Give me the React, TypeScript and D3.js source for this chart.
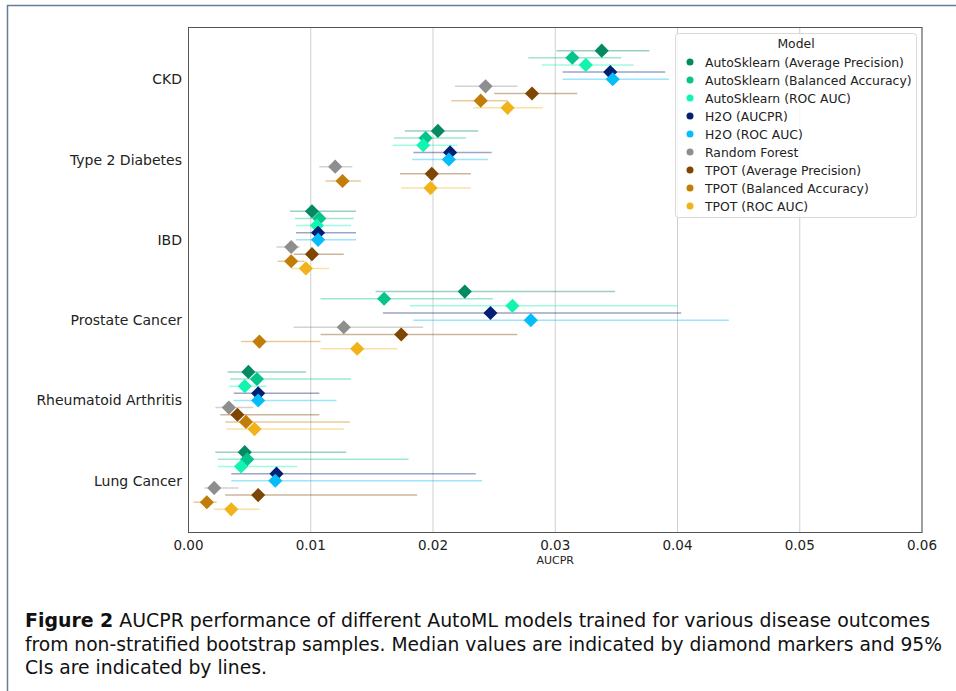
import React from "react";
import * as d3 from "d3";

const categories = ["CKD", "Type 2 Diabetes", "IBD", "Prostate Cancer", "Rheumatoid Arthritis", "Lung Cancer"];
const models = [
  "AutoSklearn (Average Precision)",
  "AutoSklearn (Balanced Accuracy)",
  "AutoSklearn (ROC AUC)",
  "H2O (AUCPR)",
  "H2O (ROC AUC)",
  "Random Forest",
  "TPOT (Average Precision)",
  "TPOT (Balanced Accuracy)",
  "TPOT (ROC AUC)",
];
const colors = ["#038a62", "#05c48c", "#12f5b2", "#031f73", "#05bdfa", "#8e8e8e", "#7f4502", "#c27d08", "#f2b31a"];

// medians per model (order of categories)
const medians = [
  [0.0338, 0.0204, 0.0101, 0.0226, 0.0049, 0.0046],
  [0.0314, 0.0194, 0.0107, 0.016, 0.0056, 0.0048],
  [0.0325, 0.0192, 0.0105, 0.0265, 0.0046, 0.0043],
  [0.0345, 0.0214, 0.0106, 0.0247, 0.0057, 0.0072],
  [0.0347, 0.0213, 0.0106, 0.028, 0.0057, 0.0071],
  [0.0243, 0.012, 0.0084, 0.0127, 0.0033, 0.0021],
  [0.0281, 0.0199, 0.0101, 0.0174, 0.004, 0.0057],
  [0.0239, 0.0126, 0.0084, 0.0058, 0.0047, 0.0015],
  [0.0261, 0.0198, 0.0096, 0.0138, 0.0054, 0.0035],
];
const lower = [
  [0.0301, 0.0177, 0.0083, 0.0153, 0.0032, 0.0022],
  [0.0278, 0.0168, 0.0087, 0.0108, 0.0034, 0.0024],
  [0.0289, 0.0167, 0.0088, 0.0181, 0.0033, 0.0024],
  [0.0306, 0.0184, 0.0088, 0.0159, 0.0037, 0.0035],
  [0.0306, 0.0183, 0.0088, 0.0184, 0.0037, 0.0035],
  [0.0218, 0.0107, 0.0072, 0.0086, 0.0022, 0.0013],
  [0.025, 0.0173, 0.0086, 0.0108, 0.0026, 0.003],
  [0.0215, 0.0112, 0.0073, 0.0043, 0.003, 0.0004],
  [0.0233, 0.0174, 0.0084, 0.0108, 0.0031, 0.0021],
];
const upper = [
  [0.0377, 0.0237, 0.0137, 0.0349, 0.0096, 0.0129],
  [0.0354, 0.0227, 0.0135, 0.0249, 0.0133, 0.018],
  [0.0364, 0.022, 0.0133, 0.04, 0.0064, 0.0089],
  [0.039, 0.0248, 0.0137, 0.0403, 0.0107, 0.0235],
  [0.0393, 0.0245, 0.0137, 0.0442, 0.0121, 0.024],
  [0.0269, 0.0134, 0.0091, 0.0192, 0.0053, 0.0041],
  [0.0318, 0.0231, 0.0127, 0.0269, 0.0107, 0.0187],
  [0.0261, 0.0141, 0.0095, 0.0108, 0.0132, 0.0023],
  [0.029, 0.0231, 0.0115, 0.0171, 0.0127, 0.0058],
];
const xTicks = [0, 0.01, 0.02, 0.03, 0.04, 0.05, 0.06];

const captionLines = [
  { bold: "Figure 2", rest: " AUCPR performance of different AutoML models trained for various disease outcomes", len: 905 },
  { bold: "", rest: "from non-stratified bootstrap samples. Median values are indicated by diamond markers and 95%", len: 917 },
  { bold: "", rest: "CIs are indicated by lines.", len: 242 },
];

export default function App() {
  const W = 956;
  const H = 691;
  const left = 188.5;
  const right = 922;
  const top = 27.5;
  const bottom = 532.5;
  const x = d3.scaleLinear().domain([0, 0.06]).range([left, right]);
  const y = d3
    .scalePoint<string>()
    .domain(categories)
    .range([top, bottom])
    .padding(0.644);
  const step = y.step();
  const dodge = step * 0.089;
  const diamond = d3.symbol().type(d3.symbolSquare).size(100)();
  const font = "DejaVu Sans, sans-serif";

  return (
    <svg width={W} height={H} style={{ position: "absolute", left: 0, top: 0, display: "block", background: "#fff" }}>
      {/* page border */}
      <line x1={7} y1={5.5} x2={W} y2={5.5} stroke="#667d98" strokeWidth={1.5} />
      <line x1={7.5} y1={5} x2={7.5} y2={H} stroke="#667d98" strokeWidth={1.5} />

      {/* grid */}
      {xTicks.map((t) => (
        <line key={"g" + t} x1={x(t)} x2={x(t)} y1={top} y2={bottom} stroke="#cfcfcf" strokeWidth={1} />
      ))}

      {/* CI lines */}
      {models.map((m, i) =>
        categories.map((c, j) => {
          const yy = (y(c) as number) + (i - 4) * dodge;
          return (
            <line
              key={"l" + i + "-" + j}
              x1={x(lower[i][j])}
              x2={x(upper[i][j])}
              y1={yy}
              y2={yy}
              stroke={colors[i]}
              strokeOpacity={0.4}
              strokeWidth={1.5}
            />
          );
        })
      )}
      {/* markers */}
      {models.map((m, i) =>
        categories.map((c, j) => {
          const yy = (y(c) as number) + (i - 4) * dodge;
          return (
            <path
              key={"m" + i + "-" + j}
              d={diamond}
              transform={`translate(${x(medians[i][j])},${yy}) rotate(45)`}
              fill={colors[i]}
            />
          );
        })
      )}

      {/* frame */}
      <rect x={left} y={top} width={right - left} height={bottom - top} fill="none" stroke="#555" strokeWidth={1} />

      {/* x axis labels */}
      {xTicks.map((t) => (
        <text key={"t" + t} x={x(t)} y={550} textAnchor="middle" fontFamily={font} fontSize={13.5} fill="#222">
          {t.toFixed(2)}
        </text>
      ))}
      <text x={x(0.03)} y={564} textAnchor="middle" fontFamily={font} fontSize={11} fill="#222">
        AUCPR
      </text>

      {/* y axis labels */}
      {categories.map((c) => (
        <text key={"y" + c} x={182} y={(y(c) as number) + 5} textAnchor="end" fontFamily={font} fontSize={14} fill="#222">
          {c}
        </text>
      ))}

      {/* legend */}
      <g>
        <rect x={675.5} y={33.5} width={241} height={184} rx={3} fill="#fff" fillOpacity={0.8} stroke="#d8d8d8" />
        <text x={796} y={48} textAnchor="middle" fontFamily={font} fontSize={12.4} fill="#222">
          Model
        </text>
        {models.map((m, i) => (
          <g key={"lg" + i}>
            <circle cx={690} cy={62 + i * 18} r={3.5} fill={colors[i]} />
            <text x={705} y={66.5 + i * 18} fontFamily={font} fontSize={12.4} fill="#222">
              {m}
            </text>
          </g>
        ))}
      </g>

      {/* caption */}
      {captionLines.map((l, i) => (
        <text
          key={"c" + i}
          x={25}
          y={627 + i * 23.5}
          fontFamily="DejaVu Sans Condensed, Liberation Sans Narrow, Liberation Sans, sans-serif"
          fontSize={19}
          fill="#111"
          textLength={l.len}
          lengthAdjust="spacingAndGlyphs"
        >
          {l.bold ? <tspan fontWeight="bold">{l.bold}</tspan> : null}
          {l.rest}
        </text>
      ))}
    </svg>
  );
}
